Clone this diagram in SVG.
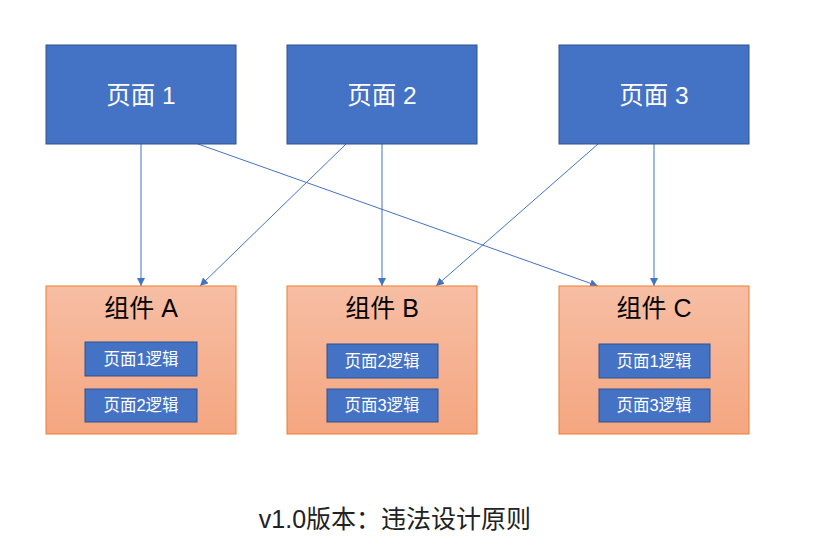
<svg xmlns="http://www.w3.org/2000/svg" width="815" height="553" viewBox="0 0 815 553">
<style>
.page{fill:#4472c4;stroke:#2f528f;stroke-width:1}
.comp{fill:url(#g);stroke:#ed7d31;stroke-width:1}
.t{font-family:"Liberation Sans","Noto Sans CJK SC",sans-serif;text-anchor:middle}
.pt{font-size:24.5px;fill:#fff}
.ct{font-size:25px;fill:#000}
.it{font-size:16.5px;fill:#fff}
.cn{stroke:#4472c4;stroke-width:1;fill:none;marker-end:url(#ah)}
</style>
<defs>
<linearGradient id="g" x1="0" y1="0" x2="0" y2="1">
<stop offset="0" stop-color="#f7bea4"/>
<stop offset="1" stop-color="#f4a680"/>
</linearGradient>
<marker id="ah" viewBox="0 0 10 10" refX="10" refY="5" markerWidth="8" markerHeight="8" markerUnits="userSpaceOnUse" orient="auto">
<path d="M0,0 L10,5 L0,10 z" fill="#4472c4"/>
</marker>
</defs>
<g id="connectors">
<line class="cn" x1="141" y1="144" x2="141" y2="286"/>
<line class="cn" x1="198" y1="144" x2="598" y2="286"/>
<line class="cn" x1="346" y1="144" x2="200" y2="286"/>
<line class="cn" x1="382" y1="144" x2="382" y2="286"/>
<line class="cn" x1="598" y1="144" x2="436" y2="286"/>
<line class="cn" x1="654" y1="144" x2="654" y2="286"/>
</g>
<g id="page1"><rect class="page" x="46" y="45" width="190" height="99"/><text class="t pt" x="141" y="104">页面 1</text></g>
<g id="page2"><rect class="page" x="287" y="45" width="190" height="99"/><text class="t pt" x="382" y="104">页面 2</text></g>
<g id="page3"><rect class="page" x="559" y="45" width="190" height="99"/><text class="t pt" x="654" y="104">页面 3</text></g>
<g id="compA">
<rect class="comp" x="46" y="286" width="190" height="148"/>
<text class="t ct" x="141" y="317">组件 A</text>
<rect class="page" x="85" y="342" width="112" height="34"/><text class="t it" x="141" y="365">页面1逻辑</text>
<rect class="page" x="85" y="389" width="112" height="33"/><text class="t it" x="141" y="411">页面2逻辑</text>
</g>
<g id="compB">
<rect class="comp" x="287" y="286" width="190" height="148"/>
<text class="t ct" x="382" y="317">组件 B</text>
<rect class="page" x="327" y="344" width="111" height="34"/><text class="t it" x="382" y="367">页面2逻辑</text>
<rect class="page" x="327" y="389" width="111" height="33"/><text class="t it" x="382" y="411">页面3逻辑</text>
</g>
<g id="compC">
<rect class="comp" x="559" y="286" width="190" height="148"/>
<text class="t ct" x="654" y="317">组件 C</text>
<rect class="page" x="599" y="344" width="111" height="34"/><text class="t it" x="654" y="367">页面1逻辑</text>
<rect class="page" x="599" y="389" width="111" height="33"/><text class="t it" x="654" y="411">页面3逻辑</text>
</g>
<g id="caption"><text class="t" x="395" y="528" font-size="25" fill="#222">v1.0版本：违法设计原则</text></g>
</svg>
